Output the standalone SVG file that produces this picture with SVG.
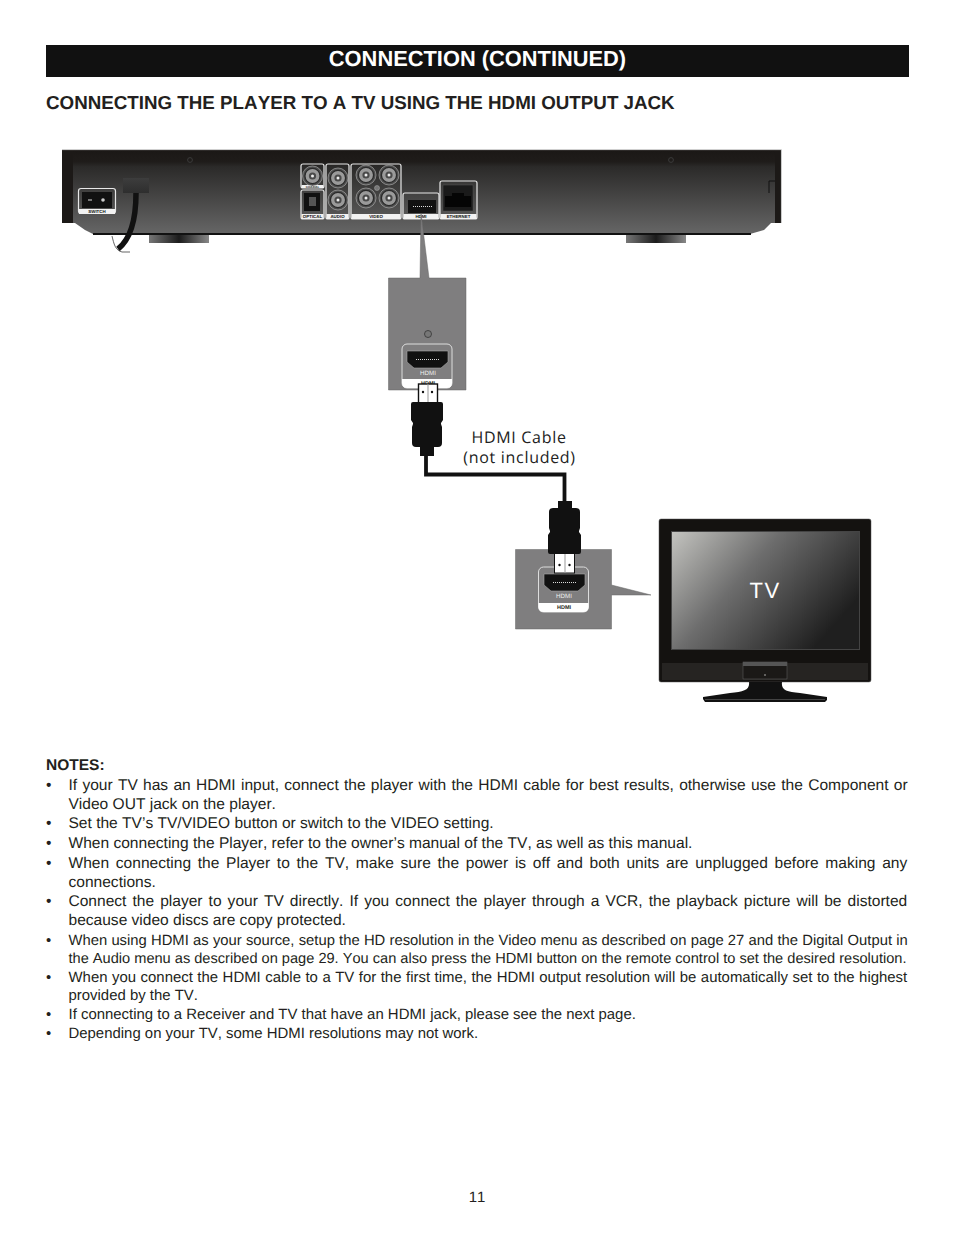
<svg xmlns="http://www.w3.org/2000/svg" xmlns:xlink="http://www.w3.org/1999/xlink" width="954" height="1235" viewBox="0 0 954 1235">
<style>
text{font-family:"Liberation Sans",Arial,sans-serif;fill:#231f20;text-rendering:geometricPrecision;font-kerning:none}
.b{font-size:15.55px}
.s{font-size:14.93px}
.lbl{font-size:4.4px;font-weight:bold;fill:#111;text-anchor:middle}
.out{fill:none;stroke:#e8e8e8;stroke-width:1.2}
.band{fill:#f2f2f2}
.cap{font-family:"Open Sans",sans-serif;font-size:16px;fill:#222;text-anchor:middle;letter-spacing:.7px}
</style>
<defs>
<linearGradient id="body" x1="0" y1="0" x2="0" y2="1"><stop offset="0" stop-color="#1b1816"/><stop offset=".14" stop-color="#1f1c1a"/><stop offset=".2" stop-color="#2b2a29"/><stop offset="1" stop-color="#666"/></linearGradient>
<linearGradient id="foot"><stop offset="0" stop-color="#777"/><stop offset=".5" stop-color="#1b1b1b"/><stop offset="1" stop-color="#888"/></linearGradient>
<linearGradient id="plugbox" x1="0" y1="0" x2="0" y2="1"><stop offset="0" stop-color="#3d3d3d"/><stop offset="1" stop-color="#2e2e2e"/></linearGradient>
<linearGradient id="screen" x1="0" y1="0" x2="1" y2=".55"><stop offset="0" stop-color="#c4c4c0"/><stop offset=".45" stop-color="#6d6d6d"/><stop offset="1" stop-color="#1f1f1f"/></linearGradient>
<g id="jack"><circle r="10" fill="#4e4e4e" stroke="#ccc" stroke-width=".5"/><circle r="7.6" fill="#9a9a9a" stroke="#2a2a2a" stroke-width="1.3"/><circle r="3.600" fill="#4a4a4a"/><circle r="1.500" fill="#eee"/></g>
<g id="hdmiport"><path d="M0 0H41V11L34 17H7L0 11Z" fill="#111" stroke="#aaa" stroke-width=".6"/><path d="M9 8.500H33" stroke="#ddd" stroke-width="1.2" stroke-dasharray="1 1" fill="none"/></g>
</defs>
<rect width="954" height="1235" fill="#fff"/>
<g id="title"><rect x="46" y="45" width="863" height="32" fill="#111"/><text x="477.500" y="65.500" text-anchor="middle" font-size="21.85" font-weight="bold" style="fill:#fff">CONNECTION (CONTINUED)</text></g>
<g id="heading"><text x="46" y="108.500" font-size="18.78" font-weight="bold">CONNECTING THE PLAYER TO A TV USING THE HDMI OUTPUT JACK</text></g>
<g id="connectors">
<path id="cable" d="M426 456V474.500H564.500V501" fill="none" stroke="#111" stroke-width="3.800"/>
</g>
<g id="player">
<path d="M62 150H781V223H771L764 230L750 234H93L85 230L75 223H62Z" fill="url(#body)"/>
<rect x="62" y="150" width="11" height="73" fill="#1c1917"/>
<rect x="775" y="150" width="6" height="73" fill="#1c1917"/>
<path d="M62 149.700H781.400V223" fill="none" stroke="#aaa" stroke-width=".7"/>
<rect x="93" y="233" width="658" height="2" fill="#111"/>
<path d="M769 193V181H775" fill="none" stroke="#111"/>
<circle cx="190" cy="160" r="2.400" fill="none" stroke="#3a3a3a"/><circle cx="671" cy="160" r="2.400" fill="none" stroke="#3a3a3a"/>
<rect x="149" y="235" width="60" height="8" fill="url(#foot)"/><rect x="626" y="235" width="60" height="8" fill="url(#foot)"/>
<g id="switch"><rect x="78.500" y="188.500" width="37" height="25" rx="2.500" class="out"/><rect x="79" y="209" width="36" height="5" class="band"/><rect x="82" y="192" width="30" height="16" fill="#111"/><path d="M88 200H92" stroke="#ddd"/><circle cx="103" cy="200" r="1.800" fill="#ccc"/><text x="97" y="213" class="lbl">SWITCH</text></g>
<rect x="123" y="178" width="26" height="15" fill="url(#plugbox)"/>
<path d="M136 193C136 215 132 238 118 249" fill="none" stroke="#111" stroke-width="5.500"/>
<path d="M112 236C114 244 115 250 122 252H130" fill="none" stroke="#222" stroke-width=".7"/>
<g id="coax"><rect x="301" y="164" width="23" height="24" rx="2" class="out"/><rect x="301.500" y="185" width="22" height="3" class="band"/><use xlink:href="#jack" href="#jack" x="312.500" y="176"/><text x="312.500" y="187.500" class="lbl" style="font-size:3px">COAXIAL</text></g>
<g id="optical"><rect x="301" y="190" width="23" height="29" rx="2" class="out"/><rect x="301.500" y="214" width="22" height="5" class="band"/><rect x="304" y="193" width="16" height="18" fill="#111"/><rect x="309" y="197" width="7" height="9" fill="#555"/><text x="312.500" y="218" class="lbl">OPTICAL</text></g>
<g id="audio"><rect x="326" y="164" width="23" height="55" rx="2" class="out"/><rect x="326.500" y="214" width="22" height="5" class="band"/><use xlink:href="#jack" href="#jack" x="338" y="178"/><use xlink:href="#jack" href="#jack" x="338" y="200"/><text x="337.500" y="218" class="lbl">AUDIO</text></g>
<g id="video"><rect x="351" y="164" width="50" height="55" rx="2" class="out"/><rect x="351.500" y="214" width="49" height="5" class="band"/><use xlink:href="#jack" href="#jack" x="366" y="175"/><use xlink:href="#jack" href="#jack" x="389" y="175"/><use xlink:href="#jack" href="#jack" x="366" y="198"/><use xlink:href="#jack" href="#jack" x="389" y="198"/><circle cx="377" cy="188" r="2.500" fill="#777" stroke="#aaa" stroke-width=".5"/><text x="376" y="218" class="lbl">VIDEO</text></g>
<g id="hdmi-out"><rect x="403" y="193" width="36" height="26" rx="2" class="out"/><rect x="403.500" y="214" width="35" height="5" class="band"/><rect x="408" y="200" width="28" height="13" fill="#111"/><path d="M413 206.500H432" stroke="#ddd" stroke-width="1" stroke-dasharray="1 1"/><text x="421" y="218" class="lbl">HDMI</text></g>
<g id="ethernet"><rect x="440" y="181" width="37" height="38" rx="2" class="out"/><rect x="440.500" y="214" width="36" height="5" class="band"/><rect x="443" y="185" width="30" height="26" fill="#1a1a1a" stroke="#555" stroke-width=".5"/><path d="M445 207V196H452V193H464V196H471V207Z" fill="#050505"/><text x="458.500" y="218" class="lbl">ETHERNET</text></g>
</g>
<g id="panel-player">
<path d="M421 213L429 278H466V390H388.500V278H420Z" fill="#7f7e7f"/>
<path d="M388.500 278H420L421 213L429 278H466V390H388.500Z" fill="none" stroke="#666" stroke-width=".5"/>
<circle cx="428" cy="334" r="3.500" fill="#777" stroke="#333" stroke-width=".8"/>
<rect x="402" y="344" width="50" height="44" rx="5" fill="#7f7e7f" stroke="#ddd" stroke-width="1"/>
<path d="M402 379H452V383Q452 388 447 388H407Q402 388 402 383Z" fill="#fff"/>
<use xlink:href="#hdmiport" href="#hdmiport" x="407" y="351"/>
<text x="428" y="375" font-size="6.200" text-anchor="middle" style="fill:#eee">HDMI</text>
<text x="428" y="385" font-size="5.500" font-weight="bold" text-anchor="middle">HDMI</text>
</g>
<g id="plug-player">
<rect x="418.500" y="384" width="19" height="19" fill="#fff" stroke="#111" stroke-width="1.400"/><path d="M428 384V403" stroke="#999"/><circle cx="423" cy="392" r="1.200" fill="#111"/><circle cx="432" cy="392" r="1.200" fill="#111"/>
<path d="M411 404Q411 402 413 402H441Q443 402 443 404V420L441 423V424L442 427V443Q442 447 438 447H434V456H420V447H416Q412 447 412 443V427L413 424V423L411 420Z" fill="#111"/>
</g>
<text class="cap" x="519" y="443">HDMI Cable</text>
<text class="cap" x="519.500" y="463">(not included)</text>
<g id="panel-tv">
<path d="M515.500 549.500H611.500V585L651 595H611.500V629H515.500Z" fill="#7f7e7f" stroke="#666" stroke-width=".5"/>
<rect x="538.500" y="567" width="50" height="45" rx="5" fill="#7f7e7f" stroke="#ddd" stroke-width="1"/>
<path d="M538.500 603H588.500V607Q588.500 612 583.500 612H543.500Q538.500 612 538.500 607Z" fill="#fff"/>
<use xlink:href="#hdmiport" href="#hdmiport" x="544" y="574"/>
<text x="564" y="598" font-size="6.200" text-anchor="middle" style="fill:#eee">HDMI</text>
<text x="564" y="609" font-size="5.500" font-weight="bold" text-anchor="middle">HDMI</text>
</g>
<g id="plug-tv">
<rect x="554.500" y="552" width="20" height="21" fill="#fff" stroke="#111" stroke-width="1"/><path d="M565 552V573" stroke="#999"/><circle cx="559.500" cy="565" r="1.200" fill="#111"/><circle cx="569.500" cy="565" r="1.200" fill="#111"/>
<path d="M558 501H572V508H576Q580 508 580 512V528L579 531V532L581 535V552Q581 554 579 554H550Q548 554 548 552V535L550 532V531L549 528V512Q549 508 553 508H558Z" fill="#111"/>
</g>
<g id="tv">
<rect x="659" y="519" width="212" height="163" rx="2" fill="#141210" stroke="#555" stroke-width=".5"/>
<rect x="671.500" y="531.500" width="188" height="118" fill="url(#screen)" stroke="#444" stroke-width="1"/>
<rect x="662" y="663" width="206" height="17" fill="#262422"/>
<rect x="743" y="662" width="44" height="17" fill="#1b1917" stroke="#666" stroke-width=".5"/>
<rect x="743" y="662" width="44" height="4" fill="#555"/>
<circle cx="765" cy="675" r=".8" fill="#bbb"/>
<path d="M749 682H782C781 690 786 692 800 693L827 697V700L825 702H705L703 699V697L730 693C744 692 750 690 749 682Z" fill="#111"/>
<path d="M705 699.500H825" stroke="#666" stroke-width=".6"/>
<text x="765" y="598" font-size="22" text-anchor="middle" letter-spacing="1.500" style="fill:#fff">TV</text>
</g>
<g id="notes">
<text x="46" y="770" font-size="15.500" font-weight="bold">NOTES:</text>
<text class="b" x="46" y="790">•</text><text class="b" x="68.500" y="790" word-spacing=".95">If your TV has an HDMI input, connect the player with the HDMI cable for best results, otherwise use the Component or</text>
<text class="b" x="68.500" y="809">Video OUT jack on the player.</text>
<text class="b" x="46" y="828">•</text><text class="b" x="68.500" y="828">Set the TV’s TV/VIDEO button or switch to the VIDEO setting.</text>
<text class="b" x="46" y="848">•</text><text class="b" x="68.500" y="848">When connecting the Player, refer to the owner’s manual of the TV, as well as this manual.</text>
<text class="b" x="46" y="868">•</text><text class="b" x="68.500" y="868" word-spacing="2.400">When connecting the Player to the TV, make sure the power is off and both units are unplugged before making any</text>
<text class="b" x="68.500" y="887">connections.</text>
<text class="b" x="46" y="906">•</text><text class="b" x="68.500" y="906" word-spacing="1.750">Connect the player to your TV directly. If you connect the player through a VCR, the playback picture will be distorted</text>
<text class="b" x="68.500" y="925">because video discs are copy protected.</text>
<text class="s" x="46" y="945">•</text><text class="s" x="68.500" y="945" style="font-size:14.8px" word-spacing=".12">When using HDMI as your source, setup the HD resolution in the Video menu as described on page 27 and the Digital Output in</text>
<text class="s" x="68.500" y="963" style="font-size:14.6px">the Audio menu as described on page 29. You can also press the HDMI button on the remote control to set the desired resolution.</text>
<text class="s" x="46" y="982">•</text><text class="s" x="68.500" y="982" word-spacing=".37">When you connect the HDMI cable to a TV for the first time, the HDMI output resolution will be automatically set to the highest</text>
<text class="s" x="68.500" y="1000">provided by the TV.</text>
<text class="s" x="46" y="1019">•</text><text class="s" x="68.500" y="1019">If connecting to a Receiver and TV that have an HDMI jack, please see the next page.</text>
<text class="s" x="46" y="1038">•</text><text class="s" x="68.500" y="1038">Depending on your TV, some HDMI resolutions may not work.</text>
</g>
<text id="page" x="477" y="1202" font-size="15" text-anchor="middle">11</text>
</svg>
